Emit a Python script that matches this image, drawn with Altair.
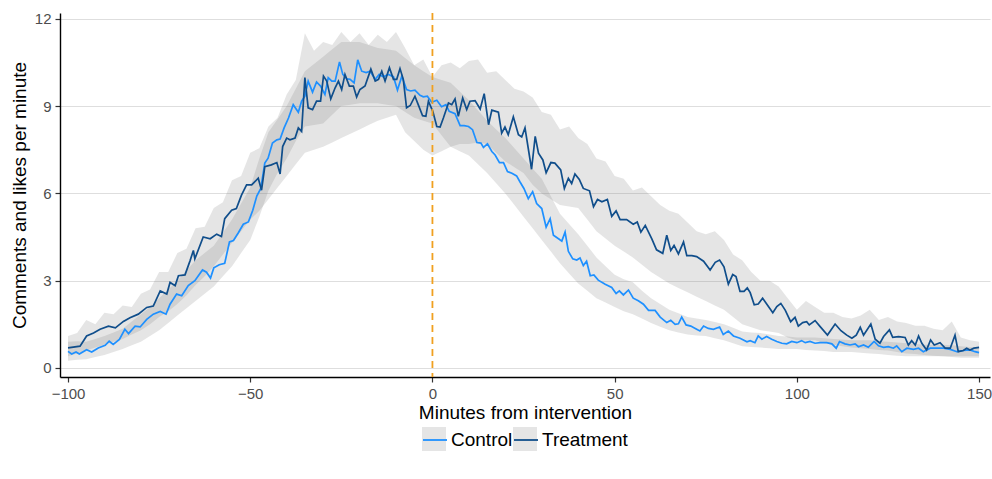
import altair as alt
import pandas as pd

# ---- Treatment line (minutes, comments+likes per minute)
t_minute = [-100, -96.7, -94.9, -93, -91.2, -88.9, -87, -84.8, -83, -80.7,
            -78.4, -76.6, -74.7, -72.9, -72, -70.6, -69.7, -67.9, -66.5, -65.6,
            -65.2, -62.9, -61, -59.2, -57.9, -57, -55.1, -53.8, -52.4, -51,
            -49.6, -47.8, -46.9, -46, -44.2, -42.7, -41.8, -41.1, -40,
            -39.1, -37.7, -36.8, -35.9, -35, -34.1, -32.9, -31.8, -30.7, -29.9,
            -29, -27.9, -26.7, -25.8, -24.9, -24, -22.8, -21.7, -20.8, -19.9,
            -18.5, -16.9, -15.7, -14.8, -13.9, -13, -11.8, -10.7, -9.8, -8.9,
            -8, -7.1, -6.1, -4.8, -3.9, -2.7, -1.8, -1.1, 0.1, 1.2,
            2.1, 3, 4.4, 5.3, 6.2, 7.1, 8.3, 9.4, 10.3, 11.7,
            13.1, 14.2, 15.4, 16.3, 18.1, 19, 19.9, 20.8, 22.2, 23.6,
            24.5, 25.4,
            27.2, 28.2, 29.1, 30.3, 31.2, 32.5, 33.6, 35.2, 36.2, 37.3,
            38.2, 39.1, 40.3, 41.4, 43.1, 44.2, 45.3, 46.5, 48, 49.2,
            50.4, 51.5, 53.3, 55.1, 56.2, 57.2, 58.4, 60.2, 61.5, 63.2,
            64.3, 65.4, 66.3, 67.5, 68.9, 69.8, 71.2, 72.5, 74.4, 76.2,
            77.6, 78.8, 80, 81.2, 82.4, 83.3, 84.4, 85.5, 86.4,
            87.2, 88.3, 89.4, 90.6, 92.2, 93.4, 94.5, 95.6, 96.8, 98.3,
            99.5, 100.4, 101.6, 102.7, 103.4, 105, 106.4, 108.4, 110.5, 112.1,
            113.7, 115.1, 116.3, 117.4, 118.3, 120.3, 121.5, 122.8, 123.8, 125.4,
            126.3, 127.9, 129.7, 130.6, 131.5, 132.5, 133.4, 134.3, 135.6, 136.7,
            137.7, 139.3, 140.7, 142.1, 143.4, 144.3, 145.7, 146.6, 147.5, 148.6,
            150]
t_value = [0.69, 0.75, 1.1, 1.2, 1.33, 1.44, 1.38, 1.6, 1.73, 1.85,
           2.08, 2.13, 2.65, 2.54, 2.94, 2.83, 3.17, 3.2, 3.69, 4.04,
           3.75, 4.5, 4.44, 4.6, 4.52, 5.13, 5.42, 5.48, 5.94, 6.29,
           6.29, 6.52, 6.11, 6.92, 6.98, 7.06, 6.67, 7.61, 7.9,
           7.84, 7.9, 8.25, 8.13, 9.98, 8.94, 8.88, 9.17, 9.17, 10.03,
           9.86, 9.25, 9.63, 9.86, 9.57, 10.09, 9.69, 9.69, 9.31, 9.57,
           9.69, 10.27, 9.86, 9.92, 10.2, 9.86, 10.32, 9.92, 9.92, 10.29,
           9.92, 8.94, 9.02, 9.34, 9.05, 8.67, 8.65, 9.17, 8.82, 8.3,
           8.28, 8.59, 9.11, 9.05, 9.25, 8.65, 9.28, 8.88, 9.17, 9.19,
           8.9, 9.43, 8.36, 8.86, 8.79, 8.07, 8.28, 8.02, 8.63, 8.02,
           7.94, 8.25,
           6.83, 7.96, 7.38, 7.15, 6.71, 7.06, 7.04, 6.81, 6.17, 6.52,
           6.34, 6.67, 6.48, 6.17, 6.09, 5.54, 5.79, 5.71, 5.79, 5.21,
           5.4, 5.1, 5.1, 4.94, 5.02, 4.67, 4.9, 4.44, 4.06, 3.94,
           4.56, 4.04, 4.21, 3.92, 4.33, 3.86, 3.86, 3.83, 3.67, 3.37,
           3.63, 3.71, 3.48, 2.88, 3.21, 3.14, 2.63, 2.63, 2.75,
           2.59, 2.17, 2.2, 2.4, 2.11, 1.9, 2.11, 2.22, 1.99, 1.59,
           1.74, 1.44, 1.56, 1.59, 1.48, 1.63, 1.42, 1.13, 1.51, 1.28,
           1.13, 1.02, 1.13, 1.4, 1.13, 1.51, 0.99, 0.85, 1.08, 1.31,
           1.05, 1.08, 1.05, 0.79, 0.94, 0.79, 1.1, 0.85, 0.62, 0.96,
           0.79, 0.87, 0.68, 0.68, 1.13, 0.56, 0.6, 0.68, 0.62, 0.68,
           0.71]

# ---- Control line
c_minute = [-100, -99, -97.8, -96.9, -94.9, -93.5, -91.7, -89.8, -88.7, -87.6,
            -85.9, -84.4, -83.4, -81.6, -80.2, -78.4, -76.6, -74.7, -73.1, -72,
            -70.2, -68.8, -67, -65.2, -63.1, -62, -60.9, -60, -58.5, -57,
            -55.7, -54.6, -53.3, -51.9, -50.5, -49.3, -48.2, -47.1, -46, -45.1,
            -43.9, -42.7, -41.8, -40.7, -39.5,
            -38.2, -36.8, -35.9, -35, -34.1, -32.9, -31.8, -30.7, -29.5, -28.6,
            -27.6, -26.7, -25.5, -24.6, -23.5, -22.6, -21.5, -20.5, -19.4, -18.2,
            -17.1, -15.7, -14.6, -13.5, -12.1, -10.7, -9.6, -8.4, -7.1, -6,
            -4.8, -3.4, -2.5, -1.4, -0.2, 1.2, 2.5, 3.7, 4.6, 6.2,
            7.6, 8.7, 9.9, 11, 12.2, 13.3, 14, 15.1, 16.3, 17.2,
            18.4, 19.5, 20.6, 21.8, 23.1,
            24, 25.1, 26.3, 27.5, 28.6, 30, 31.2, 32.3, 33.2, 34.6,
            35.5, 36.4, 37.3, 38.5, 39.6, 40.5, 41.4, 42.3, 43.3, 44.3,
            45.5, 47.4, 49.2, 50.4, 51.3, 52.4, 53.8, 55.1, 56.5, 57.9,
            59.3, 61.1, 62.5, 64.3, 65.4, 66.6, 67.5, 68.4, 69.6, 70.9,
            72.5, 73.4, 74.4, 75.7, 77.1, 78.8, 79.8, 81.2, 82.6, 84.4,
            86.3,
            87.2, 88.5, 89.4, 90.4, 91.7, 93.1, 94.5, 95.9, 97.2, 98.6,
            100, 101.3, 102.3, 103.6, 105, 106.4, 108.2, 109.6, 110.8, 111.7,
            113.2, 114.6, 116, 116.9, 118.3, 119.6, 121.2, 122.4, 123.8, 125.1,
            126.5, 127.4, 128.8, 130.2, 132, 133.4, 134.7, 136.6, 138.4, 140.2,
            142.1, 143.9, 145.7, 147.5, 148.9, 150]
c_value = [0.57, 0.48, 0.55, 0.48, 0.63, 0.55, 0.69, 0.78, 0.92, 0.81,
           0.98, 1.33, 1.18, 1.44, 1.41, 1.67, 1.85, 1.94, 1.85, 2.19,
           2.54, 2.48, 2.83, 3.0, 3.37, 3.29, 3.09, 3.44, 3.55, 3.6,
           4.33, 4.38, 4.64, 4.94, 5.02, 5.42, 5.91, 6.17, 7.04, 7.21,
           7.73, 7.84, 7.87, 8.25, 8.59,
           9.05, 8.79, 9.17, 9.34, 9.86, 9.48, 9.83, 9.69, 9.4, 9.98,
           9.86, 9.86, 10.52, 10.09, 9.94, 9.92, 9.8, 10.59, 10.2, 10.15,
           10.2, 9.92, 10.09, 10.01, 10.09, 10.01, 9.55, 10.03, 9.57, 9.52,
           9.55, 9.37, 9.32, 9.34, 9.13, 9.2, 8.98, 9.05, 8.82, 8.74,
           8.33, 8.33, 8.3, 8.19, 7.75, 7.73, 7.58, 7.7, 7.44, 7.32,
           7.06, 7.06, 6.75, 6.69, 6.6,
           6.4, 6.17, 5.82, 6.06, 5.65, 5.48, 4.84, 5.13, 4.56, 4.44,
           4.36, 4.67, 4.01, 3.75, 3.71, 3.78, 3.52, 3.67, 3.17, 3.2,
           3.02, 2.88, 2.77, 2.56, 2.65, 2.51, 2.68, 2.4, 2.31, 2.19,
           1.98, 1.98, 1.75, 1.56, 1.64, 1.5, 1.52, 1.75, 1.48, 1.44,
           1.33, 1.27, 1.44, 1.36, 1.33, 1.41, 1.15, 1.27, 1.1, 1.02,
           0.9,
           0.94, 0.87, 1.1, 0.99, 1.08, 0.99, 0.91, 0.85, 0.83, 0.91,
           0.87, 0.94, 0.87, 0.91, 0.85, 0.87, 0.87, 0.83, 0.68, 0.91,
           0.83, 0.79, 0.83, 0.73, 0.79, 0.71, 0.91, 0.76, 0.71, 0.73,
           0.68, 0.76, 0.56, 0.68, 0.64, 0.68, 0.56, 0.68, 0.68, 0.68,
           0.64, 0.56, 0.6, 0.62, 0.56, 0.53]

# ---- Confidence ribbons (2.5-minute grid)
band_minute = [-100, -97.5, -95, -92.5, -90, -87.5, -85, -82.5, -80, -77.5,
               -75, -72.5, -70, -67.5, -65, -62.5, -60, -57.5, -55, -52.5,
               -50, -47.5, -45, -42.5, -40, -37.5, -35, -32.5, -30, -27.5,
               -25, -22.5, -20, -17.5, -15, -12.5, -10, -7.5, -5, -2.5,
               0, 2.5, 5, 7.5, 10, 12.5, 15, 17.5, 20, 22.5,
               25, 27.5, 30, 32.5, 35, 37.5, 40, 42.5, 45, 47.5,
               50, 52.5, 55, 57.5, 60, 62.5, 65, 67.5, 70, 72.5,
               75, 77.5, 80, 82.5, 85, 87.5, 90, 92.5, 95, 97.5,
               100, 102.5, 105, 107.5, 110, 112.5, 115, 117.5, 120, 122.5,
               125, 127.5, 130, 132.5, 135, 137.5, 140, 142.5, 145, 147.5, 150]
t_lo = [0.40, 0.50, 0.60, 0.70, 0.80, 0.90, 1.00, 1.15, 1.30, 1.50,
        1.75, 1.95, 2.20, 2.50, 2.85, 3.15, 3.50, 3.90, 4.30, 4.70,
        5.10, 5.40, 5.80, 6.20, 6.60, 7.00, 7.40, 7.50, 7.60, 7.75,
        7.90, 8.05, 8.20, 8.35, 8.50, 8.60, 8.70, 8.10, 7.80, 7.50,
        7.30, 7.45, 7.60, 7.70, 7.70, 7.75, 7.70, 7.40, 7.10, 6.90,
        6.70, 6.30, 6.00, 5.80, 5.60, 5.55, 5.50, 5.10, 4.70, 4.45,
        4.20, 4.00, 3.80, 3.55, 3.30, 3.10, 2.90, 2.75, 2.60, 2.45,
        2.30, 2.15, 2.00, 1.75, 1.50, 1.40, 1.30, 1.25, 1.20, 1.05,
        0.95, 0.95, 0.95, 0.85, 0.80, 0.75, 0.70, 0.68, 0.65, 0.62,
        0.60, 0.55, 0.50, 0.48, 0.45, 0.42, 0.40, 0.40, 0.40, 0.40, 0.40]
t_hi = [1.10, 1.20, 1.65, 1.50, 1.90, 1.85, 2.15, 2.10, 2.55, 2.70,
        3.30, 3.30, 3.95, 4.10, 4.80, 4.85, 5.50, 5.70, 6.45, 6.60,
        7.40, 7.55, 8.30, 8.60, 9.40, 9.90, 11.50, 10.90, 11.20, 11.10,
        11.55, 11.20, 11.50, 11.10, 11.45, 11.20, 11.55, 11.00, 10.40, 10.60,
        10.00, 10.40, 10.50, 10.30, 10.55, 10.60, 10.15, 10.20, 9.90, 9.60,
        9.50, 9.30, 8.80, 8.70, 8.20, 8.30, 7.90, 7.70, 7.20, 7.10,
        6.60, 6.50, 6.10, 6.20, 5.90, 5.60, 5.40, 5.30, 5.00, 4.70,
        4.60, 4.70, 4.40, 3.90, 3.70, 3.30, 3.00, 3.00, 2.80, 2.40,
        2.00, 2.30, 2.10, 1.90, 1.90, 1.75, 1.70, 1.80, 2.00, 1.65,
        1.75, 1.60, 1.55, 1.45, 1.45, 1.35, 1.30, 1.60, 1.05, 0.95, 0.90]
c_lo = [0.25, 0.28, 0.30, 0.38, 0.45, 0.55, 0.65, 0.78, 0.90, 1.10,
        1.30, 1.55, 1.80, 2.05, 2.30, 2.55, 2.80, 3.15, 3.50, 3.95,
        4.40, 5.20, 6.10, 6.70, 7.20, 7.80, 8.30, 8.35, 8.40, 8.70,
        9.00, 9.05, 9.10, 9.10, 9.10, 9.05, 9.00, 8.80, 8.60, 8.50,
        8.40, 8.00, 7.60, 7.45, 7.30, 7.00, 6.70, 6.35, 6.00, 5.60,
        5.20, 4.80, 4.40, 4.00, 3.60, 3.25, 2.90, 2.65, 2.40, 2.25,
        2.10, 1.95, 1.85, 1.70, 1.55, 1.42, 1.30, 1.22, 1.15, 1.12,
        1.10, 1.02, 0.95, 0.85, 0.75, 0.72, 0.70, 0.68, 0.65, 0.65,
        0.65, 0.62, 0.60, 0.58, 0.55, 0.55, 0.55, 0.52, 0.50, 0.48,
        0.45, 0.42, 0.40, 0.40, 0.40, 0.40, 0.40, 0.38, 0.35, 0.35, 0.35]
c_hi = [0.90, 0.92, 0.90, 1.00, 1.10, 1.22, 1.35, 1.60, 1.85, 2.10,
        2.40, 2.70, 3.00, 3.35, 3.70, 3.95, 4.20, 4.65, 5.10, 5.65,
        6.20, 7.20, 8.10, 8.55, 9.00, 9.60, 10.20, 10.45, 10.70, 10.95,
        11.20, 11.20, 11.20, 11.10, 11.00, 10.95, 10.90, 10.65, 10.40, 10.20,
        10.00, 9.90, 9.80, 9.50, 9.20, 8.85, 8.50, 8.20, 7.90, 7.55,
        7.20, 6.85, 6.50, 5.90, 5.30, 4.95, 4.60, 4.20, 3.80, 3.50,
        3.20, 3.05, 2.95, 2.65, 2.40, 2.20, 2.00, 1.88, 1.75, 1.70,
        1.65, 1.58, 1.50, 1.38, 1.25, 1.22, 1.20, 1.15, 1.10, 1.08,
        1.05, 1.05, 1.05, 1.02, 1.00, 0.98, 0.95, 0.95, 0.95, 0.92,
        0.90, 0.88, 0.85, 0.82, 0.80, 0.80, 0.80, 0.78, 0.75, 0.72, 0.70]

groups = ["Control", "Treatment"]
line_colors = ["#1E90FF", "#104E8B"]
x_ticks = [-100, -50, 0, 50, 100, 150]
y_ticks = [0, 3, 6, 9, 12]

assert len(t_minute) == len(t_value) and len(c_minute) == len(c_value)
assert len(band_minute) == len(t_lo) == len(t_hi) == len(c_lo) == len(c_hi)

lines_df = pd.concat([
    pd.DataFrame({"minute": c_minute, "value": c_value, "group": groups[0]}),
    pd.DataFrame({"minute": t_minute, "value": t_value, "group": groups[1]}),
])
band_df = pd.concat([
    pd.DataFrame({"minute": band_minute, "lo": c_lo, "hi": c_hi, "band": groups[0]}),
    pd.DataFrame({"minute": band_minute, "lo": t_lo, "hi": t_hi, "band": groups[1]}),
])

FONT = "Liberation Sans"
xscale = alt.Scale(domain=[-102.2, 153], nice=False, zero=False)
yscale = alt.Scale(domain=[-0.31, 12.2], nice=False, zero=False)

leg_common = dict(orient="none", legendX=362, legendY=414, direction="horizontal",
                  title=None, symbolSize=576, labelFontSize=19, labelFont=FONT,
                  labelOffset=3, labelColor="#000000")

bands = alt.Chart(band_df).mark_area(opacity=0.2).encode(
    x=alt.X("minute:Q", scale=xscale,
            axis=alt.Axis(values=x_ticks, title="Minutes from intervention", grid=False,
                          titleY=41, titleBaseline="alphabetic")),
    y=alt.Y("lo:Q", scale=yscale,
            axis=alt.Axis(values=y_ticks, title="Comments and likes per minute", grid=True,
                          titleX=-35, titleY=182, titleAngle=-90, titleBaseline="alphabetic",
                          titleAlign="center")),
    y2="hi:Q",
    fill=alt.Fill("band:N", scale=alt.Scale(range=["#7f7f7f", "#7f7f7f"]),
                  legend=alt.Legend(symbolType="square", symbolOpacity=0.2,
                                    symbolStrokeWidth=0, labelOpacity=0,
                                    columnPadding=2, **leg_common)),
)

lines = alt.Chart(lines_df).mark_line(strokeWidth=1.7).encode(
    x="minute:Q",
    y="value:Q",
    stroke=alt.Stroke("group:N", scale=alt.Scale(range=line_colors),
                      legend=alt.Legend(symbolType="stroke", symbolStrokeWidth=1.8,
                                        columnPadding=-3, **leg_common)),
)

vline = alt.Chart(pd.DataFrame({"minute": [0]})).mark_rule(
    color="#F0A020", strokeDash=[7, 5], strokeWidth=1.8
).encode(x="minute:Q")

chart = alt.layer(bands, lines, vline).properties(
    width=930, height=364,
    autosize=alt.AutoSizeParams(type="none"),
    padding={"left": 60, "top": 13, "right": 2, "bottom": 102},
    background="white",
).configure_view(stroke=None).configure_axis(
    domainColor="#000000", domainWidth=1.4,
    tickColor="#333333", tickSize=5, tickWidth=1.2,
    labelColor="#4d4d4d", labelFontSize=15, labelFont=FONT, labelPadding=4,
    titleColor="#000000", titleFontSize=19, titleFont=FONT, titleFontWeight="normal",
    gridColor="#dedede", gridWidth=1,
).configure_legend(padding=0)

chart.save("out.html", embed_options={"renderer": "svg", "actions": False})
